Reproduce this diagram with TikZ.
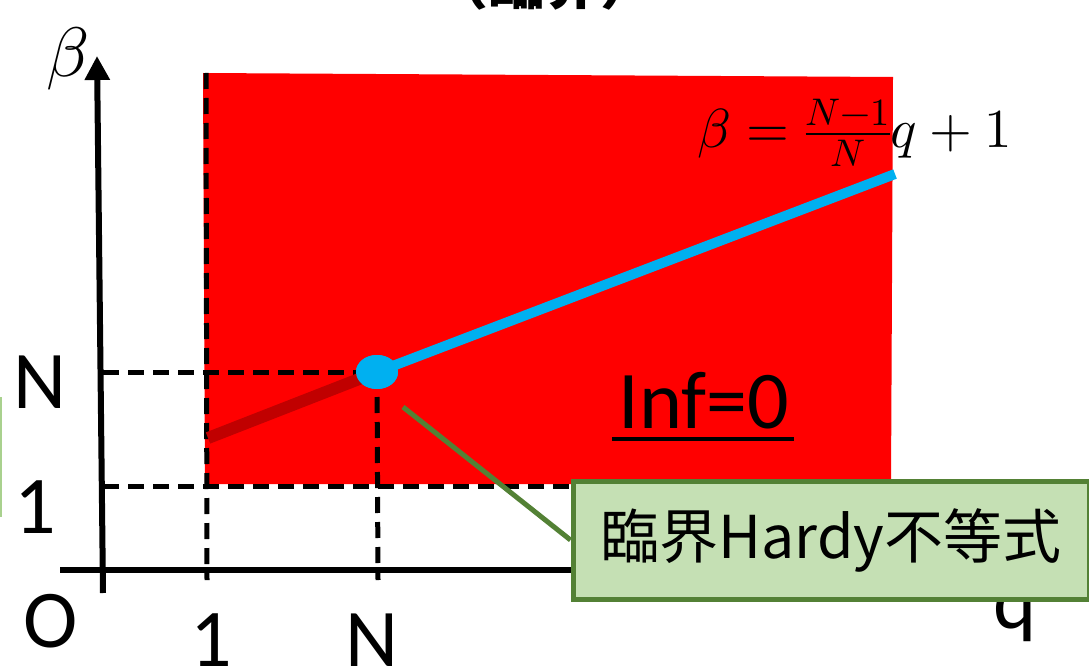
\documentclass[tikz,border=0pt]{standalone}
\usepackage{fontspec}
\usepackage{unicode-math}
\setmainfont{Carlito}
\setmathfont{Latin Modern Math}
\newfontfamily\cjk{Noto Sans CJK JP}
\usetikzlibrary{arrows.meta,shapes.geometric}
\definecolor{regionred}{HTML}{FF0000}
\definecolor{lowred}{HTML}{C00000}
\definecolor{skyblue}{HTML}{00B0F0}
\definecolor{boxgreen}{HTML}{C5E0B4}
\definecolor{linegreen}{HTML}{538135}
\definecolor{palegreen}{HTML}{A9D18E}
\begin{document}
\begin{tikzpicture}[x=1pt,y=-1pt,
  axisline/.style={line width=6pt},
  guide/.style={line width=5pt,dash pattern=on 16pt off 9pt},
  ticklbl/.style={inner sep=0pt,font=\fontsize{82}{90}\selectfont},
  calloutbox/.style={draw=linegreen,fill=boxgreen,line width=5pt,minimum width=516pt,minimum height=118pt,inner sep=0pt,font=\cjk\fontsize{59}{66}\selectfont},
]
\useasboundingbox (0,0) rectangle (1089,671);
\clip (0,0) rectangle (1089,671);

% cropped title fragment
\node[anchor=base,inner sep=0pt,font=\cjk\bfseries\fontsize{56}{60}\selectfont] (title) at (544,5) {（臨界）};

% fragment of a box at left edge
\draw[palegreen,line width=2pt] (1,397) -- (1,517);

% region
\fill[regionred] (203,73) -- (893,77) -- (891,484) -- (205,484) -- cycle;

% coordinates
\coordinate (yb) at (103,593);
\coordinate (yt) at (97,56);
\coordinate (xl) at (60,570);
\coordinate (xr) at (1070,570);
\coordinate (top1) at (206,73);
\coordinate (bot1) at (207,580);
\coordinate (botN) at (378,580);
\coordinate (lN) at (103,372);
\coordinate (l1) at (103,486);
\coordinate (r1) at (600,486);
\coordinate (lowstart) at (208,438);
\coordinate (blueend) at (895,174);
\coordinate (callfrom) at (403,407);

% guides
\draw[guide] (top1) -- (bot1);
\draw[guide] (lN) -- (377,372);
\draw[guide] (377,372) -- (botN);
\draw[guide] (l1) -- (r1);

% axes
\draw[axisline,-{Triangle[width=24pt,length=24pt]}] (yb) -- (yt);
\draw[axisline,-{Triangle[width=24pt,length=24pt]}] (xl) -- (xr);

% lines
\node[ellipse,fill=skyblue,minimum width=42pt,minimum height=34pt,inner sep=0pt] (pt) at (377,372) {};
\draw[lowred,line width=12pt] (lowstart) -- (pt.center);
\draw[skyblue,line width=10pt] (pt.center) -- (blueend);
\node[ellipse,fill=skyblue,minimum width=42pt,minimum height=34pt,inner sep=0pt] at (377,372) {};

% labels
\node[inner sep=0pt,font=\fontsize{70}{80}\selectfont] (blbl) at (68,59) {$\beta$};
\node[ticklbl] (nl) at (40,382) {N};
\node[ticklbl] (ol) at (35,507) {1};
\node[ticklbl] (orig) at (51,621) {O};
\node[ticklbl] (onex) at (211,640) {1};
\node[ticklbl] (nx) at (372,640) {N};
\node[ticklbl,anchor=base] (ql) at (1015,628) {q};

\node[inner sep=0pt,font=\fontsize{55}{60}\selectfont] (eq) at (855,133) {$\beta=\frac{N-1}{N}q+1$};

\node[ticklbl,anchor=base] (inf) at (704,428) {Inf=0};
\draw[line width=4pt] ([xshift=-6pt,yshift=-11pt]inf.base west) -- ([xshift=4pt,yshift=-11pt]inf.base east);

% callout
\node[calloutbox] (box) at (831,540) {臨界Hardy不等式};
\draw[linegreen,line width=5pt] (callfrom) -- (box.west);
\end{tikzpicture}
\end{document}
